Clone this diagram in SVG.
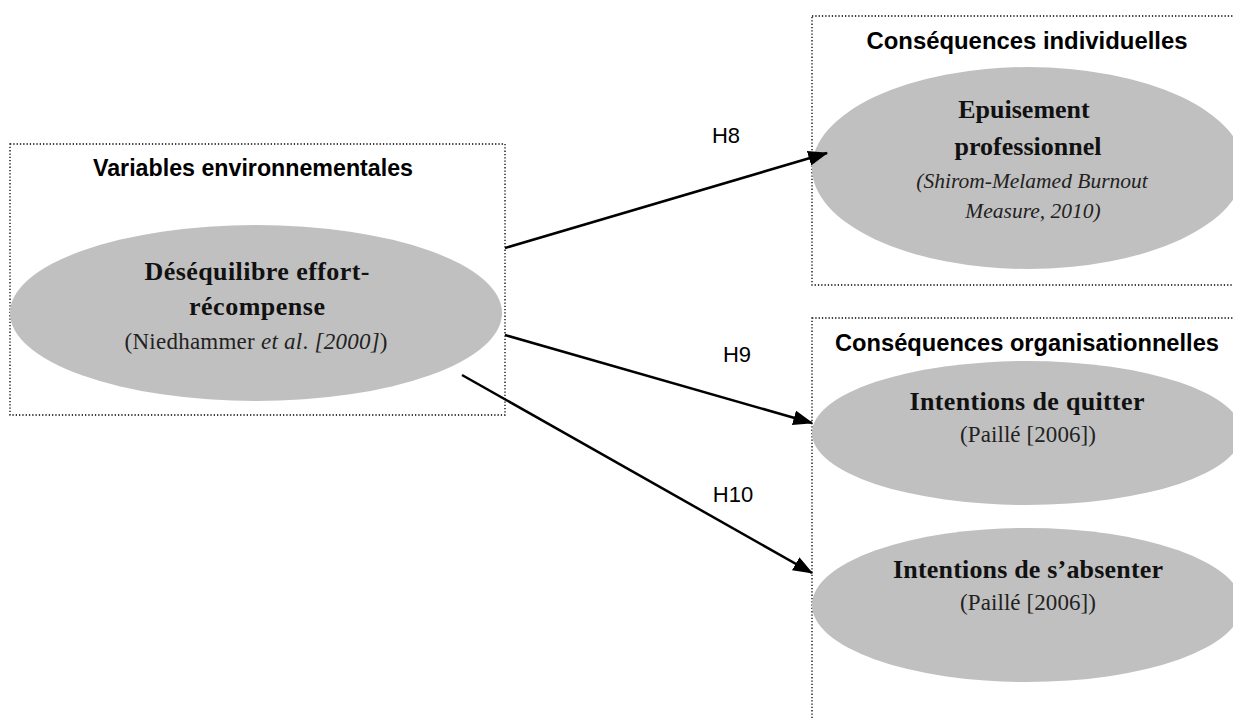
<svg xmlns="http://www.w3.org/2000/svg" width="1233" height="718" viewBox="0 0 1233 718">
<style>
.box{fill:none;stroke:#000;stroke-width:1.3;stroke-dasharray:1.3 2}
.ell{fill:#c0c0c0}
.ttl{font-family:"Liberation Sans",Arial,sans-serif;font-weight:bold;font-size:23.5px;fill:#000;text-anchor:middle}
.nb{font-family:"Liberation Serif","Times New Roman",serif;font-weight:bold;font-size:26px;fill:#111;text-anchor:middle}
.nr{font-family:"Liberation Serif","Times New Roman",serif;font-size:23px;fill:#222;text-anchor:middle}
.it{font-style:italic}
.lbl{font-family:"Liberation Sans",Arial,sans-serif;font-size:22px;fill:#000;text-anchor:middle}
.con{stroke:#000;stroke-width:2.5;fill:none;marker-end:url(#ah)}
</style>
<defs>
<marker id="ah" markerWidth="8" markerHeight="6" refX="7.5" refY="3" orient="auto" markerUnits="strokeWidth">
<path d="M0,0 L8,3 L0,6 Z" fill="#000"/>
</marker>
</defs>
<rect width="1233" height="718" fill="#fff"/>
<g id="box-env">
<rect class="box" x="10" y="144" width="495" height="271"/>
<text class="ttl" x="253" y="176" textLength="320" lengthAdjust="spacingAndGlyphs">Variables environnementales</text>
</g>
<g id="node-der">
<ellipse class="ell" cx="256" cy="313" rx="246" ry="88"/>
<text class="nb" x="257" y="280" textLength="225">Déséquilibre effort-</text>
<text class="nb" x="257" y="315" textLength="136">récompense</text>
<text class="nr" x="256" y="349" textLength="263">(Niedhammer <tspan class="it">et al</tspan>. <tspan class="it">[2000]</tspan>)</text>
</g>
<g id="box-ind">
<rect class="box" x="812" y="16" width="440" height="269"/>
<text class="ttl" x="1027" y="49" textLength="321" lengthAdjust="spacingAndGlyphs">Conséquences individuelles</text>
</g>
<g id="node-epuisement">
<ellipse class="ell" cx="1028" cy="168" rx="216" ry="101"/>
<text class="nb" x="1024" y="118">Epuisement</text>
<text class="nb" x="1028" y="155">professionnel</text>
<text class="nr it" x="1032" y="188" style="font-size:21.5px">(Shirom-Melamed Burnout</text>
<text class="nr it" x="1033" y="218" style="font-size:21.5px">Measure, 2010)</text>
</g>
<g id="box-org">
<rect class="box" x="812" y="318" width="440" height="420"/>
<text class="ttl" x="1027" y="351" textLength="384" lengthAdjust="spacingAndGlyphs">Conséquences organisationnelles</text>
</g>
<g id="node-quitter">
<ellipse class="ell" cx="1027" cy="433" rx="215" ry="72"/>
<text class="nb" x="1027" y="410" textLength="235">Intentions de quitter</text>
<text class="nr" x="1028" y="442" textLength="136">(Paillé [2006])</text>
</g>
<g id="node-absenter">
<ellipse class="ell" cx="1027" cy="605" rx="215" ry="77"/>
<text class="nb" x="1028" y="578" textLength="270">Intentions de s’absenter</text>
<text class="nr" x="1028" y="610" textLength="136">(Paillé [2006])</text>
</g>
<g id="connectors">
<line class="con" x1="505" y1="248" x2="827" y2="153"/>
<line class="con" x1="505" y1="335" x2="812" y2="423"/>
<line class="con" x1="462" y1="375" x2="812" y2="573"/>
<text class="lbl" x="726" y="143">H8</text>
<text class="lbl" x="737" y="362">H9</text>
<text class="lbl" x="733" y="502">H10</text>
</g>
</svg>
